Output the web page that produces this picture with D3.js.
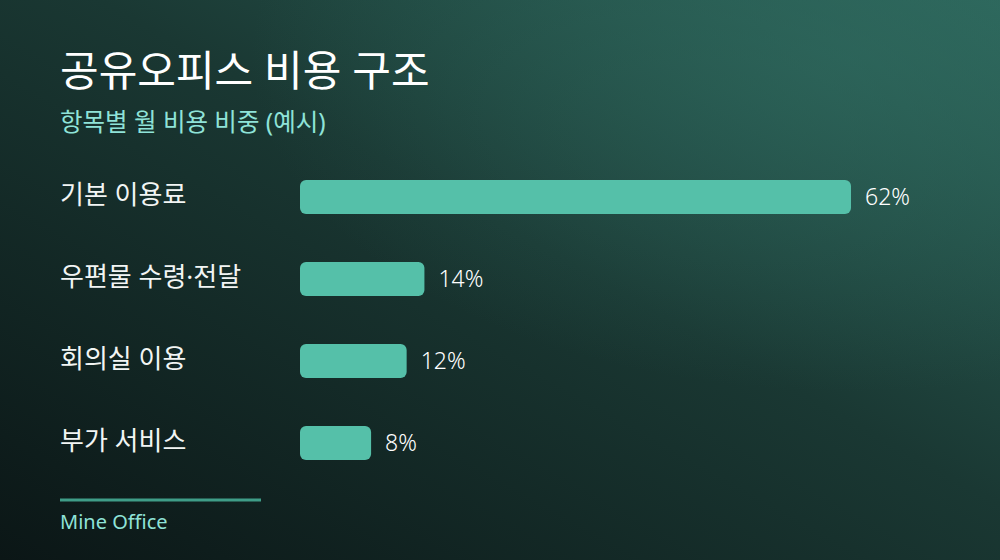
<!DOCTYPE html>
<html>
<head>
<meta charset="utf-8">
<script src="https://cdn.jsdelivr.net/npm/d3@7"></script>
<style>
  html, body { margin: 0; padding: 0; background: #0f1c1b; }
  svg { display: block; font-family: "Noto Sans", "Noto Sans CJK KR", sans-serif; }
</style>
</head>
<body>
<div id="chart"></div>
<script>
const categories = ["기본 이용료", "우편물 수령·전달", "회의실 이용", "부가 서비스"];
const shares = [62, 14, 12, 8];
const valueLabels = ["62%", "14%", "12%", "8%"];

const width = 1000;
const height = 560;

const svg = d3.select("#chart")
  .append("svg")
  .attr("width", width)
  .attr("height", height);

const defs = svg.append("defs");

const bg = defs.append("linearGradient")
  .attr("id", "bg")
  .attr("x1", "100%").attr("y1", "0%")
  .attr("x2", "0%").attr("y2", "100%");
bg.append("stop").attr("offset", "0%").attr("stop-color", "#2d675c");
bg.append("stop").attr("offset", "45%").attr("stop-color", "#1a3833");
bg.append("stop").attr("offset", "100%").attr("stop-color", "#0b1616");

const glow = defs.append("radialGradient")
  .attr("id", "glow")
  .attr("cx", "85%").attr("cy", "10%").attr("r", "60%");
glow.append("stop").attr("offset", "0%").attr("stop-color", "#2f6a5f").attr("stop-opacity", 0.6);
glow.append("stop").attr("offset", "100%").attr("stop-color", "#2f6a5f").attr("stop-opacity", 0);

svg.append("rect").attr("width", width).attr("height", height).attr("fill", "url(#bg)");
svg.append("rect").attr("width", width).attr("height", height).attr("fill", "url(#glow)");

// title
svg.append("text")
  .attr("x", 60).attr("y", 86)
  .attr("fill", "#ffffff")
  .attr("font-size", 42)
  .text("공유오피스 비용 구조");

svg.append("text")
  .attr("x", 60).attr("y", 131)
  .attr("fill", "#8fe3d8")
  .attr("font-size", 24.5)
  .text("항목별 월 비용 비중 (예시)");

// scales
const x = d3.scaleLinear()
  .domain([0, d3.max(shares)])
  .range([300, 851]);

const y = d3.scaleBand()
  .domain(categories)
  .range([180, 460])
  .paddingInner(0.585)
  .paddingOuter(0);

const rows = svg.selectAll("g.row")
  .data(categories.map((c, i) => ({ cat: c, v: shares[i], lbl: valueLabels[i] })))
  .enter().append("g")
  .attr("class", "row");

rows.append("text")
  .attr("x", 60)
  .attr("y", d => y(d.cat) + y.bandwidth() / 2 - 2)
  .attr("dy", "0.35em")
  .attr("fill", "#f2f5f4")
  .attr("font-size", 26)
  .text(d => d.cat);

rows.append("rect")
  .attr("x", x(0))
  .attr("y", d => y(d.cat))
  .attr("width", d => x(d.v) - x(0))
  .attr("height", y.bandwidth())
  .attr("rx", 6)
  .attr("fill", "#55c0a9");

rows.append("text")
  .attr("x", d => x(d.v) + 14)
  .attr("y", d => y(d.cat) + y.bandwidth() / 2)
  .attr("dy", "0.35em")
  .attr("fill", "#ffffff")
  .attr("font-size", 23)
  .attr("font-weight", 300)
  .text(d => d.lbl);

// footer
svg.append("line")
  .attr("x1", 60).attr("x2", 261)
  .attr("y1", 500).attr("y2", 500)
  .attr("stroke", "#3f9d88")
  .attr("stroke-width", 3);

svg.append("text")
  .attr("x", 60).attr("y", 529)
  .attr("fill", "#8fe3d8")
  .attr("font-size", 20)
  .text("Mine Office");
</script>
</body>
</html>
